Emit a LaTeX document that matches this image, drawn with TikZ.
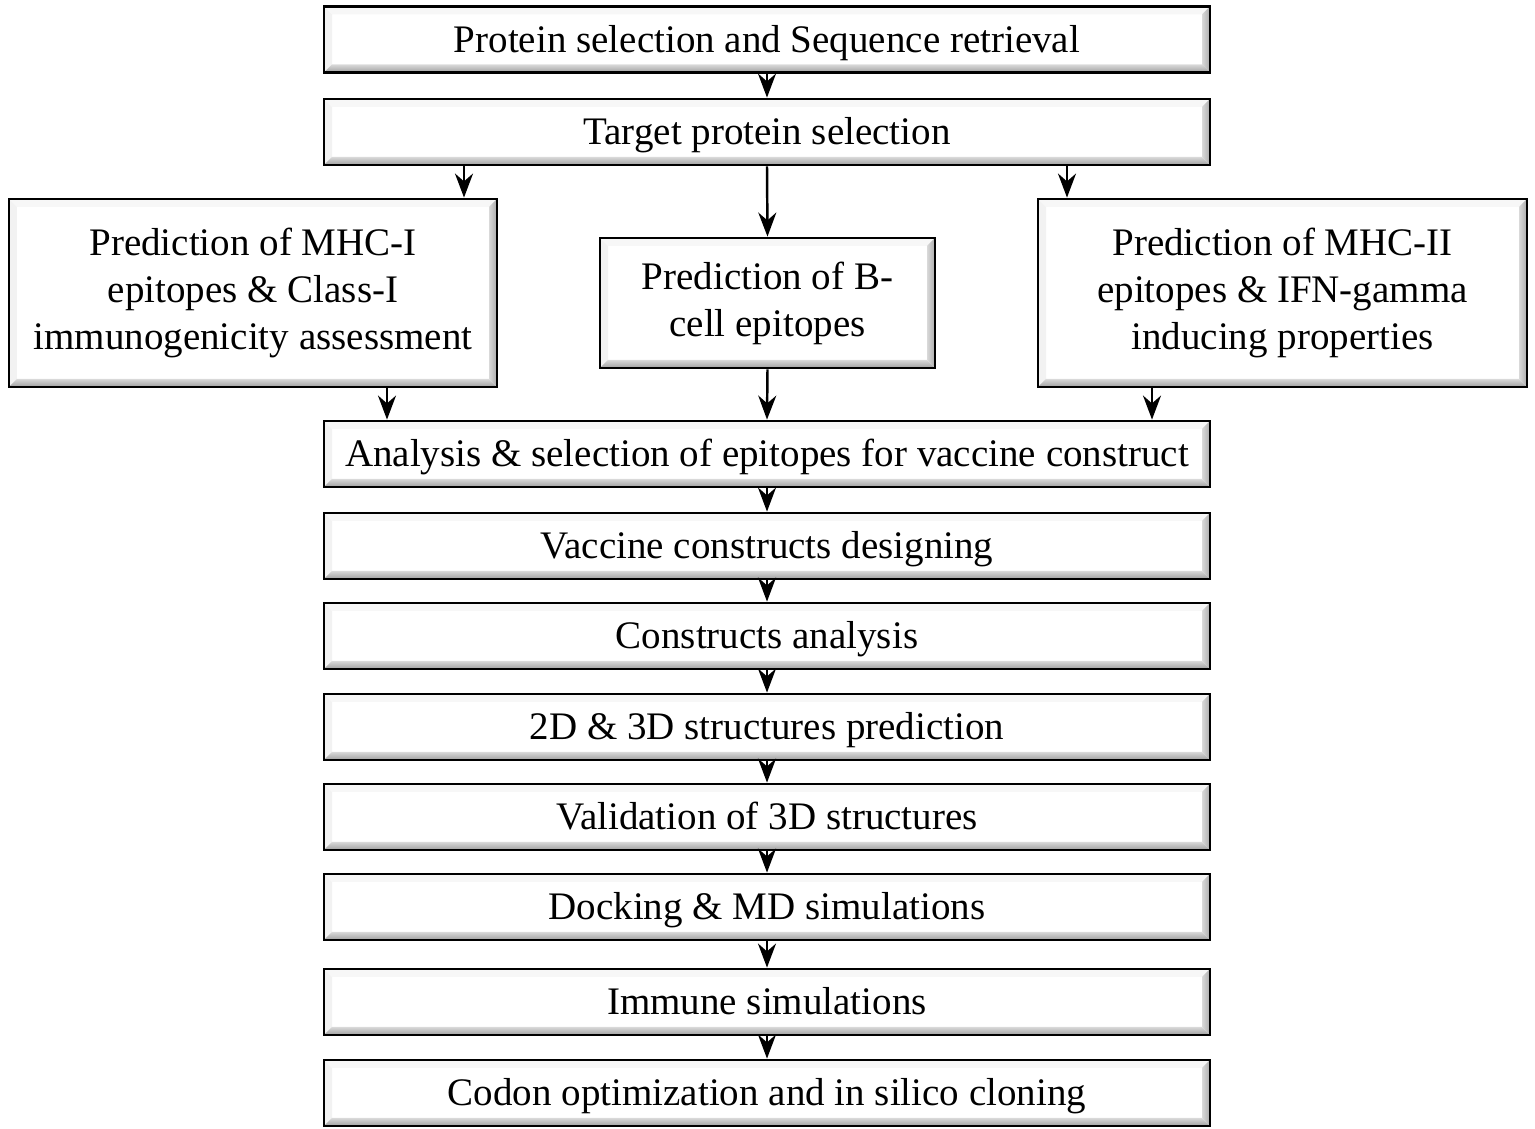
\documentclass[tikz,border=0pt]{standalone}
\usepackage{fontspec}
\setmainfont{Liberation Serif}
\usepackage{tikz}
\usetikzlibrary{calc}
\usetikzlibrary{arrows.meta}
\usetikzlibrary{positioning}

\tikzset{
    stepbox/.style={draw=black, line width=0.8pt, fill=white, align=center,
        inner sep=0pt, font=\fontsize{11.1}{13.4}\selectfont,
        path picture={
            \def\bv{0.08}
            \coordinate (bl) at (path picture bounding box.south west);
            \coordinate (tr) at (path picture bounding box.north east);
            \fill[gray!10] (bl) -- (bl|-tr) -- ($(bl|-tr)+(\bv,-\bv)$) -- ($(bl)+(\bv,\bv)$) -- cycle;
            \fill[gray!6] (bl|-tr) -- (tr) -- ($(tr)+(-\bv,-\bv)$) -- ($(bl|-tr)+(\bv,-\bv)$) -- cycle;
            \shade[top color=gray!30, bottom color=gray!75] (bl) -- (tr|-bl) -- ($(tr|-bl)+(-\bv,\bv)$) -- ($(bl)+(\bv,\bv)$) -- cycle;
            \shade[left color=gray!30, right color=gray!65] (tr|-bl) -- (tr) -- ($(tr)+(-\bv,-\bv)$) -- ($(tr|-bl)+(-\bv,\bv)$) -- cycle;
        }},
    widebox/.style={stepbox, minimum width=8.86cm, minimum height=0.66cm,
        text height=9.8pt, text depth=2.4pt},
    arr/.style={-{Stealth[length=2.4mm, width=1.8mm]}, line width=0.7pt}
}

\begin{document}
\begin{tikzpicture}
    \useasboundingbox (0,0) rectangle (15.35,11.29);

    % main column
    \node[widebox] (sel) at (7.67,10.895) {Protein selection and Sequence retrieval};
    \node[widebox] (tgt) at (7.67,9.97) {Target protein selection};

    % three prediction branches
    \node[stepbox, minimum width=4.88cm, minimum height=1.88cm] (mhc1) at (2.53,8.36)
        {Prediction of MHC-I\\epitopes \& Class-I\\immunogenicity assessment};
    \node[stepbox, minimum width=3.35cm, minimum height=1.30cm] (bcell) at (7.675,8.26)
        {Prediction of B-\\cell epitopes};
    \node[stepbox, minimum width=4.89cm, minimum height=1.88cm] (mhc2) at (12.825,8.36)
        {Prediction of MHC-II\\epitopes \& IFN-gamma\\inducing properties};

    \node[widebox] (ana) at (7.67,6.75) {Analysis \& selection of epitopes for vaccine construct};
    \node[widebox] (vac) at (7.67,5.83) {Vaccine constructs designing};
    \node[widebox] (con) at (7.67,4.93) {Constructs analysis};
    \node[widebox] (str) at (7.67,4.02) {2D \& 3D structures prediction};
    \node[widebox] (val) at (7.67,3.12) {Validation of 3D structures};
    \node[widebox] (dock) at (7.67,2.22) {Docking \& MD simulations};
    \node[widebox] (imm) at (7.67,1.27) {Immune simulations};
    \node[widebox] (cod) at (7.67,0.36) {Codon optimization and in silico cloning};

    % arrows
    \draw[arr] (sel.south) -- (tgt.north);
    \draw[arr] ([xshift=-3.03cm]tgt.south) -- ([xshift=-3.03cm]tgt.south |- mhc1.north);
    \draw[arr] (tgt.south) -- (bcell.north);
    \draw[arr] ([xshift=3.00cm]tgt.south) -- ([xshift=3.00cm]tgt.south |- mhc2.north);
    \draw[arr] ([xshift=1.34cm]mhc1.south) -- ([xshift=1.34cm]mhc1.south |- ana.north);
    \draw[arr] (bcell.south) -- (ana.north);
    \draw[arr] ([xshift=-1.305cm]mhc2.south) -- ([xshift=-1.305cm]mhc2.south |- ana.north);
    \foreach \a/\b in {ana/vac, vac/con, con/str, str/val, val/dock, dock/imm, imm/cod}
        \draw[arr] (\a.south) -- (\b.north);
\end{tikzpicture}
\end{document}
